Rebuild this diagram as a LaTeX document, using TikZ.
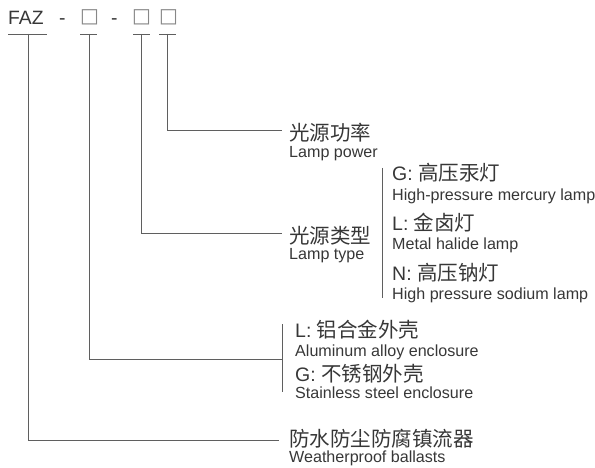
\documentclass[tikz,border=0pt]{standalone}
\usepackage{fontspec}
\setmainfont{Liberation Sans}
\newfontfamily\cjk{Noto Sans CJK SC}
\newfontfamily\symf{DejaVu Sans}
\definecolor{txt}{RGB}{55,55,55}
\definecolor{lnc}{RGB}{95,95,95}
\definecolor{boxc}{RGB}{135,135,135}
\newcommand\zhtext[1]{{\cjk\fontsize{20.5}{20.5}\selectfont #1}}
\begin{document}
\begin{tikzpicture}[x=1pt,y=-1pt,
  ln/.style={draw=lnc, line width=0.9pt},
  topt/.style={anchor=base west, inner sep=0, text=txt, font=\fontsize{19.3}{19.3}\selectfont},
  boxch/.style={anchor=center, inner sep=0, text=boxc, font=\symf\fontsize{20}{20}\selectfont},
  zh/.style={anchor=base west, inner sep=0, text=txt, font=\fontsize{19.5}{19.5}\selectfont},
  en/.style={anchor=base west, inner sep=0, text=txt, font=\fontsize{16.1}{16.1}\selectfont},
]
\useasboundingbox (0,0) rectangle (595,468);
% code line
\node[topt] (faz) at (8,25) {FAZ};
\node[topt] (d1) at (59,25) {-};
\node[boxch] (b1) at (89.5,17.5) {□};
\node[topt] (d2) at (111,25) {-};
\node[boxch] (b2) at (141.5,17.5) {□};
\node[boxch] (b3) at (168.5,17.5) {□};
% underlines
\coordinate (u0a) at (8,34);   \coordinate (u0b) at (47,34);
\coordinate (u1a) at (80,34);  \coordinate (u1b) at (97,34);
\coordinate (u2a) at (133,34); \coordinate (u2b) at (150,34);
\coordinate (u3a) at (159,34); \coordinate (u3b) at (176,34);
\draw[ln] (u0a) -- (u0b);
\draw[ln] (u1a) -- (u1b);
\draw[ln] (u2a) -- (u2b);
\draw[ln] (u3a) -- (u3b);
\coordinate (s0) at (28,34);
\coordinate (s1) at (89,34);
\coordinate (s2) at (141,34);
\coordinate (s3) at (167,34);
% right side texts
\node[zh] (pw) at (289,141) {\zhtext{光源功率}};
\node[en] (pwe) at (289,157.5) {Lamp power};
\node[zh] (ty) at (289,243.5) {\zhtext{光源类型}};
\node[en] (tye) at (289,259) {Lamp type};
\node[zh] (tg) at (392,181) {G: \zhtext{高压汞灯}};
\node[en] (tge) at (392,201) {High-pressure mercury lamp};
\node[zh] (tl) at (392,231) {L: \zhtext{金卤灯}};
\node[en] (tle) at (392,250) {Metal halide lamp};
\node[zh] (tn) at (392,280) {N: \zhtext{高压钠灯}};
\node[en] (tne) at (392,299) {High pressure sodium lamp};
\node[zh] (el) at (295,337) {L: \zhtext{铝合金外壳}};
\node[en] (ele) at (295,356.5) {Aluminum alloy enclosure};
\node[zh] (eg) at (295,381) {G: \zhtext{不锈钢外壳}};
\node[en] (ege) at (295,398) {Stainless steel enclosure};
\node[zh] (bl) at (289,446.5) {\zhtext{防水防尘防腐镇流器}};
\node[en] (ble) at (289,462.5) {Weatherproof ballasts};
% connector ends and brackets
\coordinate (e3) at (282,130);
\coordinate (e2) at (282,233);
\coordinate (e1) at (282,359);
\coordinate (e0) at (279,440);
\coordinate (bt1) at (382,168);
\coordinate (bt2) at (382,298);
\coordinate (be1) at (282,324);
\coordinate (be2) at (282,392);
\draw[ln] (s3) |- (e3);
\draw[ln] (s2) |- (e2);
\draw[ln] (s1) |- (e1);
\draw[ln] (s0) |- (e0);
\draw[ln] (bt1) -- (bt2);
\draw[ln] (be1) -- (be2);
\end{tikzpicture}
\end{document}
